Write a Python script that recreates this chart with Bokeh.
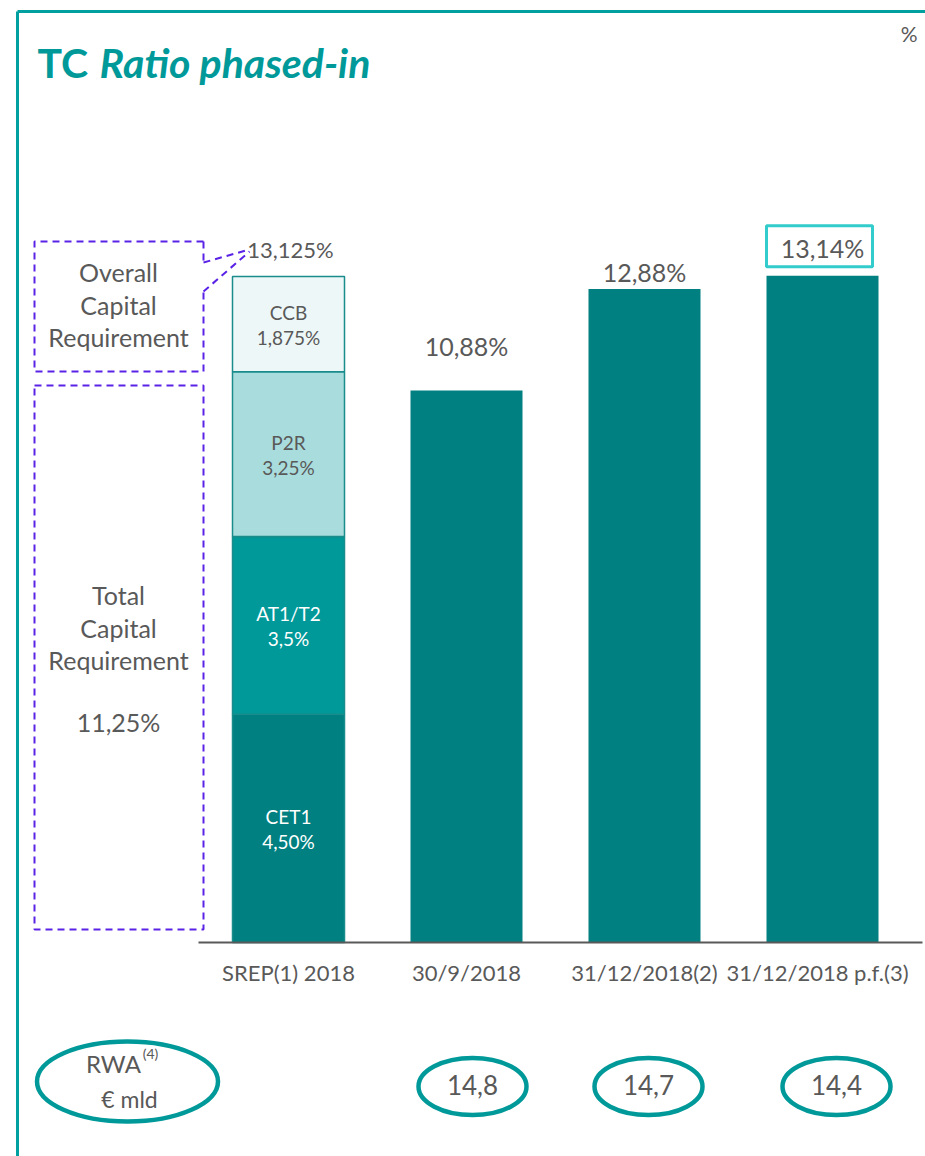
from bokeh.plotting import figure
from bokeh.models import Range1d, Label, ColumnDataSource
from bokeh.core.properties import value
from bokeh.embed import file_html
from bokeh.resources import INLINE

# ---------------- data ----------------
categories = ["SREP(1) 2018", "30/9/2018", "31/12/2018(2)", "31/12/2018 p.f.(3)"]
tc_ratio = [13.125, 10.88, 12.88, 13.14]
tc_labels = ["13,125%", "10,88%", "12,88%", "13,14%"]
srep_parts = ["CET1", "AT1/T2", "P2R", "CCB"]
srep_values = [4.50, 3.5, 3.25, 1.875]
srep_value_labels = ["4,50%", "3,5%", "3,25%", "1,875%"]
rwa_values = ["14,8", "14,7", "14,4"]
trc_total_label = "11,25%"

# ---------------- layout ----------------
W, H = 925, 1156
OFF = 0  # page offset of the canvas
PX_PER_UNIT_X = 178.0
PX_PER_PCT = 50.74
x0 = -(288 - OFF) / PX_PER_UNIT_X
x1 = x0 + W / PX_PER_UNIT_X
y1 = (942 - OFF) / PX_PER_PCT
y0 = y1 - H / PX_PER_PCT

def DX(px):
    return x0 + (px - OFF) / PX_PER_UNIT_X

def DY(py):
    return y1 - (py - OFF) / PX_PER_PCT

TEAL_DARK = "#008080"
TEAL_MID = "#009999"
TEAL_LIGHT = "#a9dcdc"
TEAL_PALE = "#eef7f7"
FRAME = "#00a0a0"
GREY = "#595959"
PURPLE = "#5a22e6"
CYAN = "#33cccc"
FONT = value("Lato")

p = figure(width=W, height=H, x_range=Range1d(x0, x1), y_range=Range1d(y0, y1),
           output_backend="svg", toolbar_location=None,
           x_axis_location=None, y_axis_location=None, min_border=0)
p.outline_line_color = None
p.xgrid.visible = False
p.ygrid.visible = False
p.background_fill_color = "white"

# frame lines (top and left)
p.segment(x0=[DX(17), DX(17)], y0=[DY(11), DY(11)], x1=[DX(930), DX(17)], y1=[DY(11), DY(1170)],
          line_color=FRAME, line_width=3)

# title
p.add_layout(Label(x=DX(37), y=DY(62), text="TC", text_font="Lato", text_font_style="bold",
                   text_font_size="41px", text_color=TEAL_MID, text_baseline="alphabetic"))
p.add_layout(Label(x=DX(99), y=DY(62), text="Ratio phased-in", text_font="Lato",
                   text_font_style="bold italic", text_font_size="41px", text_color=TEAL_MID,
                   text_baseline="alphabetic"))
p.add_layout(Label(x=DX(917), y=DY(33), text="%", text_font="Lato", text_font_size="21px",
                   text_color=GREY, text_align="right", text_baseline="middle"))

bar_w = 112 / PX_PER_UNIT_X
xs = list(range(len(categories)))

# stacked SREP bar
bottoms, tops = [], []
acc = 0.0
for v in srep_values:
    bottoms.append(acc)
    acc += v
    tops.append(acc)
seg_colors = [TEAL_DARK, TEAL_MID, TEAL_LIGHT, TEAL_PALE]
seg_src = ColumnDataSource(dict(x=[0] * len(srep_values), bottom=bottoms, top=tops,
                                color=seg_colors))
p.vbar(x="x", width=bar_w, bottom="bottom", top="top", fill_color="color",
       line_color="#1a8c8c", line_width=1.5, source=seg_src)

mids = [(b + t) / 2 for b, t in zip(bottoms, tops)]
txt_colors = ["white", "white", GREY, GREY]
p.text(x=[0] * 4, y=mids, text=srep_parts, text_font=FONT, text_font_size="19px",
       text_color=txt_colors, text_align="center", text_baseline="middle", y_offset=-12)
p.text(x=[0] * 4, y=mids, text=srep_value_labels, text_font=FONT, text_font_size="19px",
       text_color=txt_colors, text_align="center", text_baseline="middle", y_offset=13)

# other bars
p.vbar(x=xs[1:], width=bar_w, top=tc_ratio[1:], bottom=0, fill_color=TEAL_DARK, line_color=None)

# value labels above bars
label_gap_px = [27, 44, 17, 28]
label_size = ["22px", "25px", "25px", "25px"]
p.text(x=[x + (2 / PX_PER_UNIT_X if i == 0 else 0) for i, x in enumerate(xs)], y=tc_ratio,
       text=tc_labels, text_font=FONT, text_font_size=label_size, text_color=GREY,
       text_align="center", text_baseline="middle", y_offset=[-g for g in label_gap_px])
# highlight box on last label
p.rect(x=[xs[-1] - 3 / PX_PER_UNIT_X], y=[tc_ratio[-1] + 29.5 / PX_PER_PCT], width=106, height=41,
       width_units="screen", height_units="screen", fill_color=None, line_color=CYAN, line_width=3)

# baseline
p.segment(x0=[DX(198)], y0=[0], x1=[DX(922)], y1=[0], line_color="#595959", line_width=2)

# category labels
cat_dx = [0, 0, 0, -5]
p.text(x=xs, y=[DY(972)] * 4, text=categories, text_font=FONT, text_font_size="22px",
       text_color=GREY, text_align="center", text_baseline="middle", x_offset=cat_dx)

# dashed requirement boxes
bx0, bx1 = DX(34), DX(203)
ocr_top, ocr_bot = DY(241), DY(371)
trc_top, trc_bot = DY(385), DY(929)
p.multi_line(
    xs=[[bx1, bx0, bx0, bx1, bx1], [bx1, bx1], [bx1, DX(249)], [bx1, DX(249)],
        [bx0, bx1, bx1, bx0, bx0]],
    ys=[[ocr_top, ocr_top, ocr_bot, ocr_bot, DY(291)],
        [ocr_top, DY(262)], [DY(262), DY(249)], [DY(291), DY(251)],
        [trc_top, trc_top, trc_bot, trc_bot, trc_top]],
    line_color=PURPLE, line_width=2, line_dash="7 5")

p.text(x=[DX(118)] * 3, y=[DY(271), DY(304), DY(336)],
       text=["Overall", "Capital", "Requirement"], text_font=FONT, text_font_size="25px",
       text_color=GREY, text_align="center", text_baseline="middle")
p.text(x=[DX(118)] * 4, y=[DY(594), DY(627), DY(659), DY(721)],
       text=["Total", "Capital", "Requirement", trc_total_label], text_font=FONT,
       text_font_size="25px", text_color=GREY, text_align="center", text_baseline="middle")

# RWA ellipses
ell_dx = [6, 4, 14]
ex = [xs[i + 1] + ell_dx[i] / PX_PER_UNIT_X for i in range(3)]
p.ellipse(x=ex, y=[DY(1086)] * 3, width=108, height=57, width_units="screen",
          height_units="screen", fill_color=None, line_color=TEAL_MID, line_width=4.5)
p.text(x=ex, y=[DY(1084)] * 3, text=rwa_values, text_font=FONT, text_font_size="26px",
       text_color=GREY, text_align="center", text_baseline="middle")

p.ellipse(x=[DX(127)], y=[DY(1081)], width=181, height=80, width_units="screen",
          height_units="screen", fill_color=None, line_color=TEAL_MID, line_width=4.5)
p.text(x=[DX(113)], y=[DY(1063)], text=["RWA"], text_font=FONT, text_font_size="24px",
       text_color=GREY, text_align="center", text_baseline="middle")
p.text(x=[DX(150)], y=[DY(1053)], text=["(4)"], text_font=FONT, text_font_size="14px",
       text_color=GREY, text_align="center", text_baseline="middle")
p.text(x=[DX(129)], y=[DY(1098)], text=["€ mld"], text_font=FONT, text_font_size="23px",
       text_color=GREY, text_align="center", text_baseline="middle")

open("out.html", "w").write(file_html(p, INLINE))
